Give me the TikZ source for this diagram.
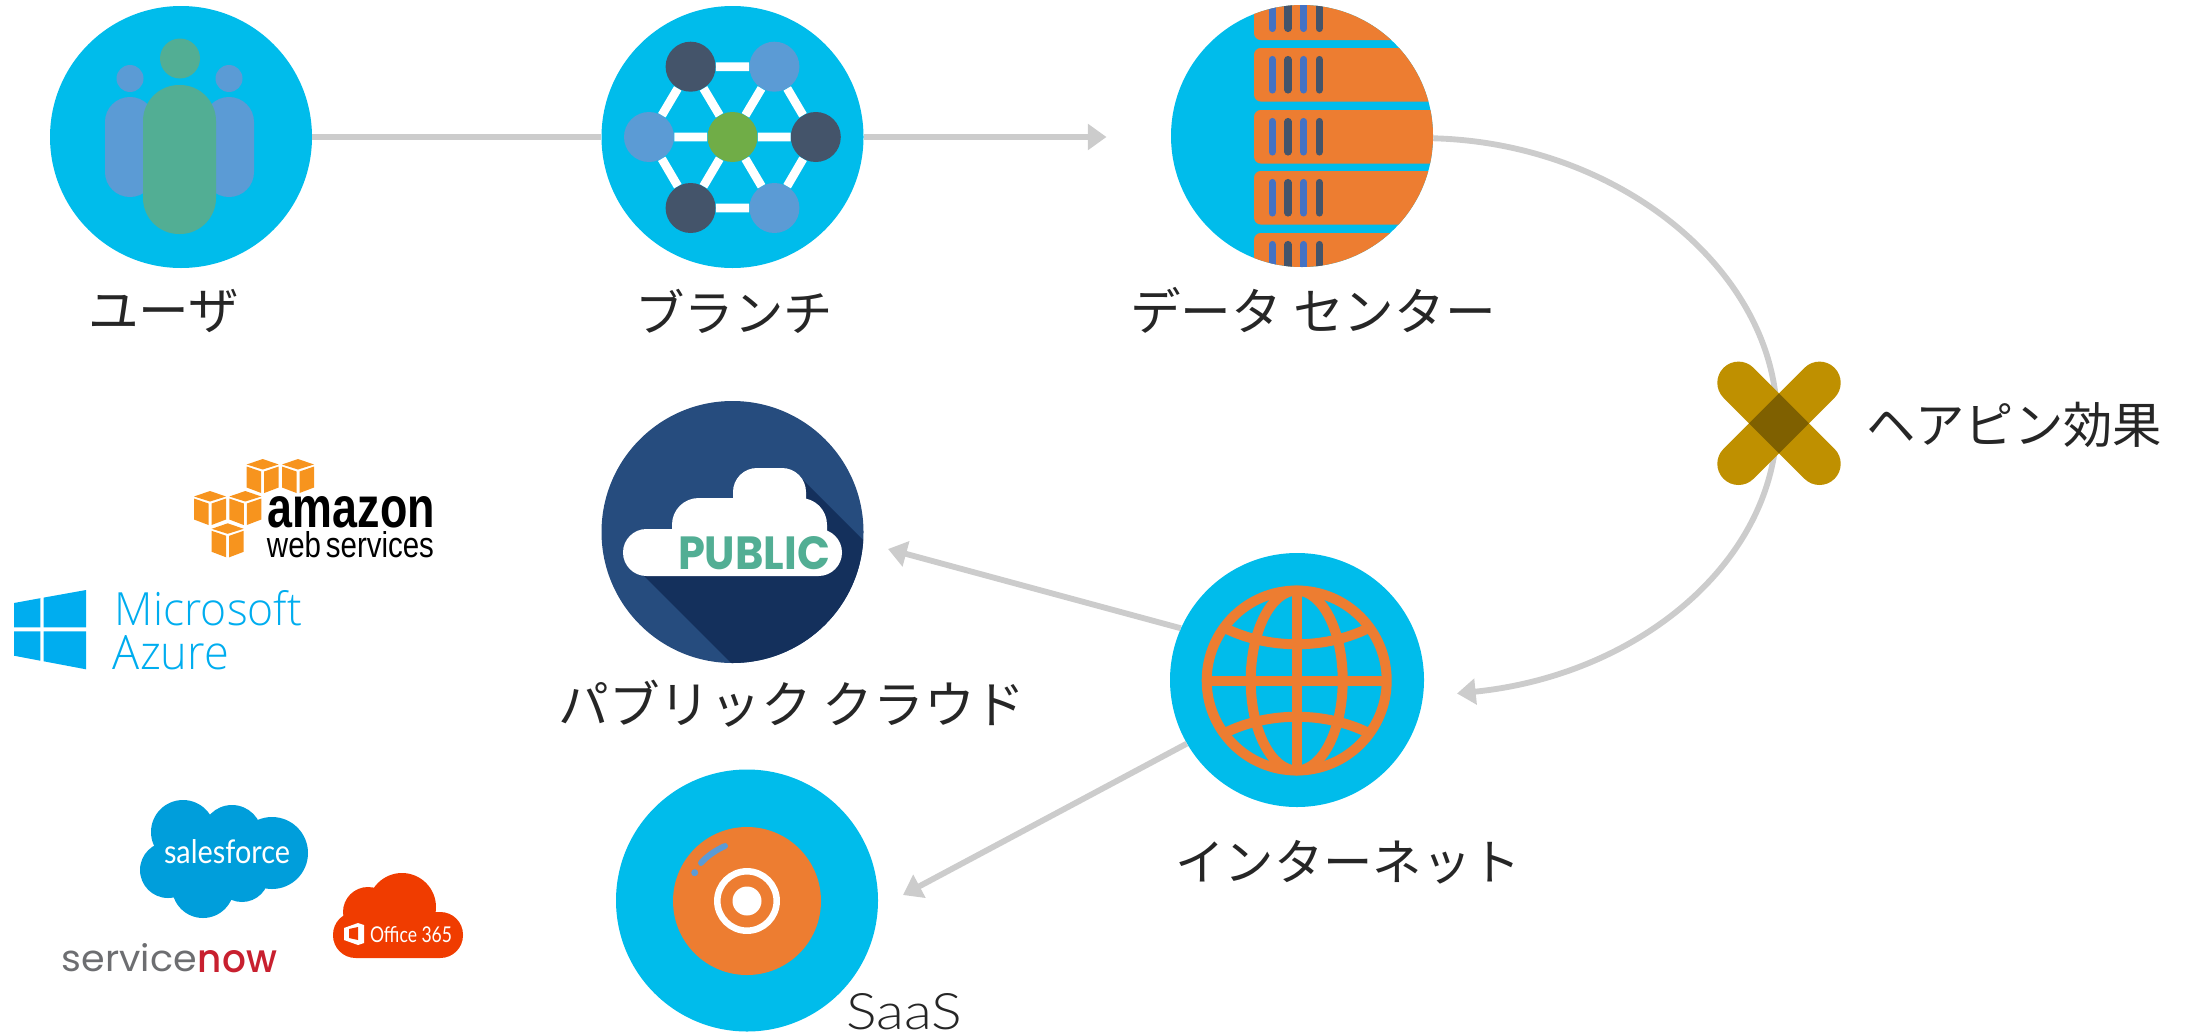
\documentclass[tikz,border=0pt]{standalone}
\usepackage{fontspec}
\usepackage{graphicx}
\usetikzlibrary{arrows.meta}
\setmainfont{Noto Sans CJK JP}
\newfontfamily\lightfont{Lato Light}
\newfontfamily\msfont{Open Sans Light}
\newfontfamily\latofont{Lato}
\newfontfamily\boldlat{Liberation Sans}[BoldFont={Liberation Sans Bold}]
\newfontfamily\popfont{Poppins}
\newfontfamily\popmed{Poppins Medium}
\newdimen\pxu \pxu=.75pt
\newcommand{\fitbox}[3]{\resizebox{#1\pxu}{#2\pxu}{#3}}
\definecolor{cyanb}{HTML}{00BCEB}
\definecolor{orangeb}{HTML}{ED7D31}
\definecolor{slateb}{HTML}{44546A}
\definecolor{blueb}{HTML}{5B9BD5}
\definecolor{bar}{HTML}{4472C4}
\definecolor{greenb}{HTML}{70AD47}
\definecolor{tealb}{HTML}{52AE94}
\definecolor{conn}{HTML}{CCCCCC}
\definecolor{navy}{HTML}{264C7E}
\definecolor{navyd}{HTML}{14305C}
\definecolor{golda}{HTML}{BF9000}
\definecolor{goldb}{HTML}{7F6000}
\definecolor{awso}{HTML}{F7941E}
\definecolor{msb}{HTML}{00ADEF}
\definecolor{sfb}{HTML}{009EDB}
\definecolor{offr}{HTML}{F03C00}
\definecolor{txt}{HTML}{262626}
\definecolor{sngray}{HTML}{6D6E71}
\definecolor{snred}{HTML}{C8202F}
\tikzset{
  disc/.style={circle,fill=cyanb,draw=none,inner sep=0pt,minimum size=196.5pt},
  lab/.style={text=txt,font=\fontsize{38pt}{42pt}\selectfont,inner sep=0pt},
  labs/.style={text=txt,font=\fontsize{37pt}{42pt}\selectfont,inner sep=0pt},
  fitl/.style={inner sep=0pt,outer sep=0pt},
  link/.style={draw=conn,line width=4.4pt},
  head/.style={-{Triangle[length=14pt,width=19pt]}},
  hub/.style={circle,inner sep=0pt,minimum size=37.5pt,draw=none},
  spoke/.style={draw=white,line width=6.5pt},
  sbar/.style={line width=5.5pt,line cap=round},
  glob/.style={draw=orangeb,line width=7.5pt},
  cube/.style={fill=awso,draw=none},
}
\newcommand{\awscube}[2]{%
  \begin{scope}[shift={(#1,#2)}]
    \fill[cube] (0,5.5)--(16,0)--(32,5.5)--(16,10.5)--cycle;
    \fill[cube] (0,7.5)--(14.5,12.5)--(14.5,34)--(0,28.5)--cycle;
    \fill[cube] (17.5,12.5)--(32,7.5)--(32,28.5)--(17.5,34)--cycle;
  \end{scope}}
\begin{document}
\begin{tikzpicture}[x=.75pt,y=-.75pt]
\useasboundingbox (0,0) rectangle (2190,1035);
% discs
\node[disc] (user) at (181,137) {};
\node[disc] (branch) at (732.5,137) {};
\node[disc] (dc) at (1302,136) {};
\node[disc,minimum size=190.5pt] (inet) at (1297,680) {};
\node[disc] (saas) at (747,900.5) {};
\node[disc,fill=navy] (pub) at (732.5,532) {};
% connectors
\coordinate (dcin) at (1106.5,137);
\coordinate (c1) at (1777,420);
\coordinate (tipA) at (1457,693.5);
\coordinate (tipB) at (888,549);
\coordinate (tipC) at (903,895);
\draw[link] (user) -- (branch);
\draw[link,head] (branch) -- (dcin);
\draw[link,head] (dc.-1.3) .. controls (1620,143) and (1777,272) .. (c1) .. controls (1777,560) and (1640,675) .. (tipA);
\draw[link,head] (inet.156) -- (tipB);
\draw[link,head] (inet.210.5) -- (tipC);
% user icon
\fill[blueb] (130,78.5) circle [radius=13.5];
\fill[blueb] (229,78.5) circle [radius=13.5];
\fill[blueb,rounded corners=18.7pt] (105,97) rectangle (155,197);
\fill[blueb,rounded corners=18.7pt] (204,97) rectangle (254,197);
\fill[tealb] (180,58.5) circle [radius=20];
\fill[tealb,rounded corners=27pt] (143,85) rectangle (216,234);
% branch icon
\node[hub,fill=slateb] (tl) at (690.6,66.7) {};
\node[hub,fill=blueb] (tr) at (774.4,66.7) {};
\node[hub,fill=blueb] (ml) at (649,137) {};
\node[hub,fill=greenb] (mc) at (732.5,137) {};
\node[hub,fill=slateb] (mr) at (815.8,137) {};
\node[hub,fill=slateb] (bl) at (690.6,208) {};
\node[hub,fill=blueb] (br) at (774.4,208) {};
\draw[spoke] (tl)--(tr) (tr)--(mr) (mr)--(br) (br)--(bl) (bl)--(ml) (ml)--(tl);
\draw[spoke] (mc)--(tl) (mc)--(tr) (mc)--(ml) (mc)--(mr) (mc)--(bl) (mc)--(br);
% data centre icon
\begin{scope}
  \clip (1302,136) circle [radius=131];
  \foreach \t in {-13.5,48,110,171,233}{
    \fill[orangeb,rounded corners=5pt] (1254,\t) rectangle (1450,\t+53.5);
    \draw[sbar,bar] (1272.3,\t+11.6) -- (1272.3,\t+41.9);
    \draw[sbar,slateb] (1288,\t+11.6) -- (1288,\t+41.9);
    \draw[sbar,bar] (1303.7,\t+11.6) -- (1303.7,\t+41.9);
    \draw[sbar,slateb] (1319.3,\t+11.6) -- (1319.3,\t+41.9);
  }
\end{scope}
% globe
\begin{scope}[shift={(1296.7,680.5)}]
  \draw[glob] (0,0) circle [radius=90];
  \draw[glob] (0,0) ellipse [x radius=46,y radius=90];
  \draw[glob] (0,-90) -- (0,90);
  \draw[glob] (-90,0) -- (90,0);
  \draw[glob] (-71,-52) .. controls (-28,-31) and (28,-31) .. (71,-52);
  \draw[glob] (-71,52) .. controls (-28,31) and (28,31) .. (71,52);
\end{scope}
% public cloud icon
\begin{scope}
  \clip (732.5,532) circle [radius=131];
  \fill[navyd] (640,572)--(735,667)--(870,667)--(870,547)--(803,480)--(700,540)--cycle;
\end{scope}
\fill[white,rounded corners=17.6pt] (623,529) rectangle (842,576);
\fill[white,rounded corners=20pt] (672,498) rectangle (827,560);
\fill[white,rounded corners=18pt] (733,468) rectangle (806,530);
\node[fitl,text=tealb] (pubtxt) at (754,553.5) {\fitbox{152}{33}{\popfont\bfseries PUBLIC}};
% saas icon
\fill[orangeb] (747,901) circle [radius=74];
\draw[white,line width=4.9pt] (747,901) circle [radius=29.7];
\fill[white] (747,901) circle [radius=14.5];
\draw[blueb,line width=4.5pt,line cap=round] (701,863) .. controls (707,856) and (716,850) .. (725,846);
\fill[blueb] (694.7,872.7) circle [radius=3.5];
\node[fitl,text=txt] (saastxt) at (904,1012) {\fitbox{116}{36}{\lightfont SaaS}};
% hairpin cross
\draw[golda,line width=31.8pt,line cap=round] (1738.5,382.8) -- (1819.5,463.8);
\draw[golda,line width=31.8pt,line cap=round] (1819.5,382.8) -- (1738.5,463.8);
\fill[goldb] (1779,393.3)--(1809,423.3)--(1779,453.3)--(1749,423.3)--cycle;
% labels
\node[lab] (l1) at (163.5,311) {ユーザ};
\node[labs] (l2) at (734,311) {ブランチ};
\node[lab] (l3) at (1313,310) {データ センター};
\node[labs] (l4) at (2014,425) {ヘアピン効果};
\node[lab] (l5) at (792,704) {パブリック クラウド};
\node[labs] (l6) at (1348,862) {インターネット};
% AWS
\awscube{246.7}{459}
\awscube{282}{459}
\awscube{194}{491}
\awscube{229.3}{491}
\awscube{211.7}{523.3}
\node[fitl,text=black] (amz) at (351.5,512) {\fitbox{167}{31}{\boldlat\bfseries amazon}};
\node[fitl,text=black] (aws2) at (350.5,545) {\fitbox{167}{26}{\boldlat web\,services}};
% Microsoft
\fill[msb] (14,603)--(40.3,598.2)--(40.3,627.3)--(14,627.3)--cycle;
\fill[msb] (43.7,597.6)--(86,590)--(86,627.3)--(43.7,627.3)--cycle;
\fill[msb] (14,631.3)--(40.3,631.3)--(40.3,660.7)--(14,655.7)--cycle;
\fill[msb] (43.7,631.3)--(86,631.3)--(86,669.3)--(43.7,661.3)--cycle;
\node[fitl,text=msb] (ms1) at (208.5,608.5) {\fitbox{187}{35}{\msfont Microsoft}};
\node[fitl,text=msb] (ms2) at (171,652.5) {\fitbox{116}{34}{\msfont Azure}};
% Salesforce
\fill[sfb] (183,832) circle [radius=32] (232,835) circle [radius=30] (272,853) circle [radius=36]
  (168,870) circle [radius=28] (203,887) circle [radius=31] (242,875) circle [radius=27] (207,857) circle [radius=40];
\node[fitl,text=white] (sf) at (227,852) {\fitbox{126}{24}{\latofont salesforce}};
% Office 365
\fill[offr,rounded corners=17pt] (333,912) rectangle (463,958);
\fill[offr] (402,907) circle [radius=34] (368,912) circle [radius=25];
\fill[white] (344,928)--(358,923)--(364,925)--(364,943)--(358,945)--(344,940)--cycle;
\fill[offr] (349,929)--(358,927)--(358,940)--(349,938)--cycle;
\node[fitl,text=white] (off) at (411,934.5) {\fitbox{82}{16}{\latofont Office 365}};
% ServiceNow
\node[fitl,text=sngray] (sn1) at (129.5,958) {\fitbox{135}{28}{\popfont service}};
\node[fitl,text=snred] (sn2) at (237.5,961.5) {\fitbox{79}{22}{\popmed now}};
\end{tikzpicture}
\end{document}
